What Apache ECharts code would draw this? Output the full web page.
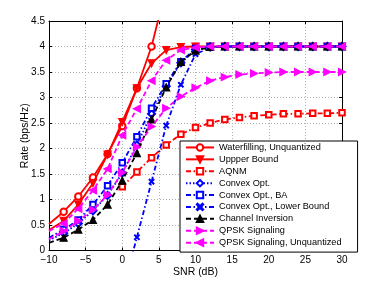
<!DOCTYPE html>
<html><head><meta charset="utf-8">
<script src="https://cdn.jsdelivr.net/npm/echarts@6/dist/echarts.min.js"></script>
<style>html,body{margin:0;padding:0;background:#fff}#c{width:377px;height:283px}</style>
</head><body><div id="c"></div>
<script>
// ---- data ----
const snr = [-10,-8,-6,-4,-2,0,2,4,6,8,10,12,14,16,18,20,22,24,26,28,30];
const waterfilling = [0.52,0.76,1.06,1.43,1.89,2.44,3.18,4.00,5.15,null,null,null,null,null,null,null,null,null,null,null,null];
const upperBound   = [0.40,0.58,0.90,1.32,1.88,2.52,3.18,3.67,3.93,3.99,4.00,4.00,4.00,4.00,4.00,4.00,4.00,4.00,4.00,4.00,4.00];
const aqnm         = [null,null,null,null,null,1.25,1.54,1.82,2.07,2.28,2.41,2.50,2.57,2.61,2.64,2.66,2.68,2.68,2.69,2.69,2.70];
const convexOpt    = [0.20,0.34,0.53,0.78,1.08,1.52,2.07,2.68,3.22,3.68,3.94,3.99,4.00,4.00,4.00,4.00,4.00,4.00,4.00,4.00,4.00];
const convexBA     = [0.25,0.41,0.60,0.90,1.27,1.72,2.23,2.79,3.27,3.70,3.96,4.00,4.00,4.00,4.00,4.00,4.00,4.00,4.00,4.00,4.00];
const convexLB     = [null,null,null,null,null,-0.83,0.26,1.35,2.45,3.25,3.85,3.98,4.00,4.00,4.00,4.00,4.00,4.00,4.00,4.00,4.00];
const channelInv   = [0.15,0.25,0.41,0.60,0.90,1.37,1.91,2.57,3.20,3.70,3.92,3.99,4.00,4.00,4.00,4.00,4.00,4.00,4.00,4.00,4.00];
const qpsk         = [0.22,0.38,0.58,0.80,1.09,1.53,2.03,2.43,2.79,3.02,3.19,3.33,3.40,3.45,3.47,3.49,3.50,3.50,3.50,3.50,3.50];
const qpskUnq      = [0.38,0.53,0.82,1.18,1.60,2.26,2.78,3.33,3.73,3.93,3.98,4.00,4.00,4.00,4.00,4.00,4.00,4.00,4.00,4.00,4.00];
const seriesNames = ['Waterfilling, Unquantized','Uppper Bound','AQNM','Convex Opt.','Convex Opt., BA','Convex Opt., Lower Bound','Channel Inversion','QPSK Signaling','QPSK Signaling, Unquantized'];
const xTicks = [-10,-5,0,5,10,15,20,25,30];
const xTickLabels = ['\u221210','\u22125','0','5','10','15','20','25','30'];
const yTickLabels = ['0','0.5','1','1.5','2','2.5','3','3.5','4','4.5'];
const xAxisTitle = 'SNR (dB)';
const yAxisTitle = 'Rate (bps/Hz)';

// ---- build ----
const FONT = 'Liberation Sans, Arial, Helvetica, sans-serif';
function pts(arr){
  const out = [];
  arr.forEach((v,i)=>{ if(v!==null){ const it={value:[snr[i],v]}; if(snr[i]===-10){it.symbol='none';} out.push(it);} });
  return out;
}
const DASH=[5,3], DASHDOT=[5,2.5,1.5,2.5], DOT=[1.5,2];
const xPath='path://M0,1.2L1.2,0L5,3.8L8.8,0L10,1.2L6.2,5L10,8.8L8.8,10L5,6.2L1.2,10L0,8.8L3.8,5Z';
const styles = [
  {data:waterfilling,color:'#ff0000',type:'solid',symbol:'emptyCircle',size:6.5,rot:0},
  {data:upperBound,color:'#ff0000',type:'solid',symbol:'triangle',size:7,rot:180},
  {data:aqnm,color:'#ff0000',type:DASHDOT,symbol:'emptyRect',size:5.5,rot:0},
  {data:convexOpt,color:'#0000ff',type:DOT,symbol:'emptyDiamond',size:7,rot:0},
  {data:convexBA,color:'#0000ff',type:DASHDOT,symbol:'emptyRect',size:5.5,rot:0},
  {data:convexLB,color:'#0000ff',type:DASHDOT,symbol:xPath,size:5,rot:0},
  {data:channelInv,color:'#000000',type:DASH,symbol:'triangle',size:7,rot:0},
  {data:qpsk,color:'#ff00ff',type:DASH,symbol:'triangle',size:7,rot:-90},
  {data:qpskUnq,color:'#ff00ff',type:DASH,symbol:'triangle',size:7,rot:90}
];
const series = styles.map((s,i)=>({
  name: seriesNames[i], type:'line', data: pts(s.data), clip:true,
  symbol:s.symbol, symbolSize:s.size, symbolRotate:s.rot, showAllSymbol:true,
  lineStyle:{color:s.color,width:1.8,type:s.type},
  itemStyle:{color:s.color,borderColor:s.color,borderWidth:1.2},
  emphasis:{disabled:true}, animation:false, z:2+i
}));
const gridLine = {show:true,lineStyle:{color:'#b0b0b0',type:[1,2],width:1}};
const option = {
  animation:false,
  backgroundColor:'#fff',
  grid:{left:49,right:35,top:21,bottom:32,show:false},
  xAxis:[{
    type:'value',min:-10,max:30,interval:5,position:'bottom',
    axisLine:{show:true,onZero:false,lineStyle:{color:'#000',width:1}},
    axisTick:{show:true,inside:true,length:3,lineStyle:{color:'#000'}},
    axisLabel:{color:'#000',fontSize:10,fontFamily:FONT,margin:5,formatter:v=>xTickLabels[xTicks.indexOf(v)]},
    splitLine:gridLine,
    name:xAxisTitle,nameLocation:'middle',nameGap:22,nameMoveOverlap:false,
    nameTextStyle:{color:'#000',fontSize:10.5,fontFamily:FONT,verticalAlign:'middle'}
  },{
    type:'value',min:-10,max:30,interval:5,position:'top',
    axisLine:{show:true,onZero:false,lineStyle:{color:'#000',width:1}},
    axisTick:{show:true,inside:true,length:3,lineStyle:{color:'#000'}},
    axisLabel:{show:false},splitLine:{show:false}
  }],
  yAxis:[{
    type:'value',min:0,max:4.5,interval:0.5,position:'left',
    axisLine:{show:true,onZero:false,lineStyle:{color:'#000',width:1}},
    axisTick:{show:true,inside:true,length:3,lineStyle:{color:'#000'}},
    axisLabel:{color:'#000',fontSize:10,fontFamily:FONT,margin:4,formatter:(v)=>yTickLabels[Math.round(v/0.5)]},
    splitLine:gridLine,
    name:yAxisTitle,nameLocation:'middle',nameGap:24,nameRotate:90,nameMoveOverlap:false,
    nameTextStyle:{color:'#000',fontSize:10.5,fontFamily:FONT,verticalAlign:'middle'}
  },{
    type:'value',min:0,max:4.5,interval:0.5,position:'right',
    axisLine:{show:true,onZero:false,lineStyle:{color:'#000',width:1}},
    axisTick:{show:true,inside:true,length:3,lineStyle:{color:'#000'}},
    axisLabel:{show:false},splitLine:{show:false}
  }],
  legend:{
    show:true,orient:'vertical',left:180,top:141,
    width:162,
    backgroundColor:'#fff',borderColor:'#000',borderWidth:1,
    padding:[1,16,4,5],itemGap:1,itemWidth:28,itemHeight:8,itemTextGap:4,
    textStyle:{color:'#000',fontSize:9.2,fontFamily:FONT,lineHeight:10.9},
    data:seriesNames,selectedMode:false
  },
  series:series
};
const chart = echarts.init(document.getElementById('c'),null,{renderer:'canvas'});
chart.setOption(option);
</script></body></html>
